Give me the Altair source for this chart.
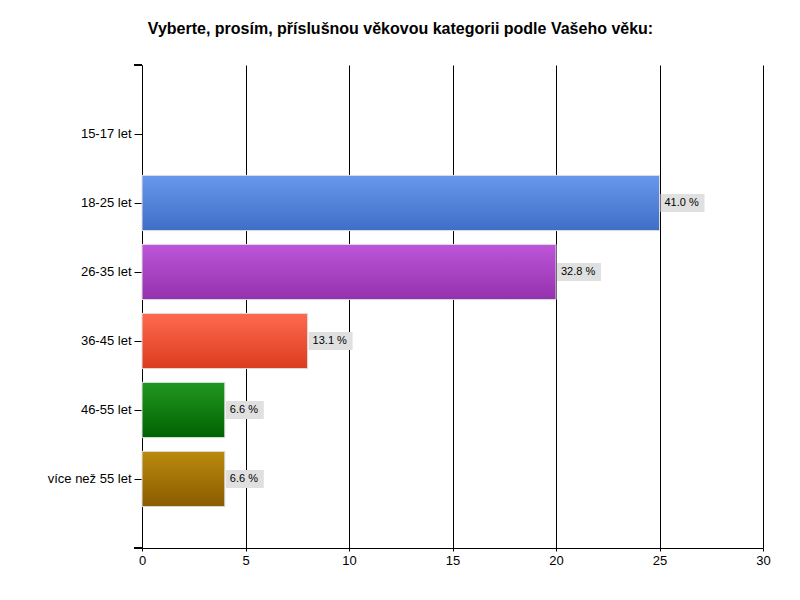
import altair as alt
import pandas as pd

categories = ["15-17 let", "18-25 let", "26-35 let", "36-45 let", "46-55 let", "více než 55 let"]
counts = [0, 25, 20, 8, 4, 4]
percents = [0.0, 41.0, 32.8, 13.1, 6.6, 6.6]
x_ticks = [0, 5, 10, 15, 20, 25, 30]

title_text = "Vyberte, prosím, příslušnou věkovou kategorii podle Vašeho věku:"

gradients = {
    "18-25 let": ("#6898ec", "#3f6ec6"),
    "26-35 let": ("#bd56da", "#9431ad"),
    "36-45 let": ("#ff6a4e", "#da3c1e"),
    "46-55 let": ("#229622", "#006300"),
    "více než 55 let": ("#bb8a0e", "#8a5b00"),
}

df = pd.DataFrame({
    "cat": categories,
    "count": counts,
    "pct": percents,
})
df["label"] = [f"{p:.1f} %" for p in percents]

FONT = "Liberation Sans"
W, H = 621, 483
px_per_unit = W / 30.0

y_enc = alt.Y("cat:N", sort=categories,
              scale=alt.Scale(domain=categories, paddingOuter=0.6, paddingInner=0.2),
              axis=alt.Axis(title=None, labelFontSize=13, labelColor="black", labelFont=FONT,
                            tickColor="black", tickSize=8, domainColor="black",
                            labelPadding=3, grid=False))
x_enc = alt.X("count:Q", scale=alt.Scale(domain=[0, 30], nice=False),
              axis=alt.Axis(title=None, values=x_ticks, grid=True, gridColor="black",
                            gridOpacity=1, gridWidth=1, tickSize=3, tickColor="black",
                            domainColor="black", labelFontSize=13, labelColor="black",
                            labelFont=FONT, labelPadding=3, format="d", labelFlush=False))

base = alt.Chart(df)

layers = []
for c in categories:
    if c not in gradients:
        continue
    top, bot = gradients[c]
    layers.append(
        base.transform_filter(alt.datum.cat == c).mark_bar(
            color=alt.Gradient(gradient="linear",
                               stops=[alt.GradientStop(color=top, offset=0),
                                      alt.GradientStop(color=bot, offset=1)],
                               x1=0, x2=0, y1=0, y2=1),
            stroke="#dddddd", strokeWidth=1
        )
    )

boxes = base.transform_filter(alt.datum.count > 0).transform_calculate(
    box_end=f"datum.count + (length(datum.label) * 6 + 9) / {px_per_unit}"
).mark_rect(color="#e0e0e0", height=18, xOffset=1).encode(x2="box_end:Q")

texts = base.transform_filter(alt.datum.count > 0).mark_text(
    align="left", baseline="middle", dx=5, fontSize=11, font=FONT, color="black"
).encode(text="label:N")

top_tick = alt.Chart(df).mark_rule(color="black").encode(
    x=alt.value(-8), x2=alt.value(0), y=alt.value(0))
bottom_ext = alt.Chart(df).mark_rule(color="black").encode(
    x=alt.value(-8), x2=alt.value(0), y=alt.value(H))

chart = alt.layer(*layers, boxes, texts, top_tick, bottom_ext).encode(
    x=x_enc, y=y_enc
).properties(
    width=W, height=H,
    title=alt.TitleParams(title_text, fontSize=16, fontWeight="bold", font=FONT,
                          color="black", anchor="middle", dx=-52, offset=28),
    autosize=alt.AutoSizeParams(type="none"),
    padding={"left": 142, "top": 65, "right": 37, "bottom": 52},
    view=alt.ViewBackground(stroke="transparent", strokeOpacity=0),
).configure_view(stroke="transparent", strokeOpacity=0).configure(background="white")

chart.save("out.html", embed_options={"renderer": "svg", "actions": False})
